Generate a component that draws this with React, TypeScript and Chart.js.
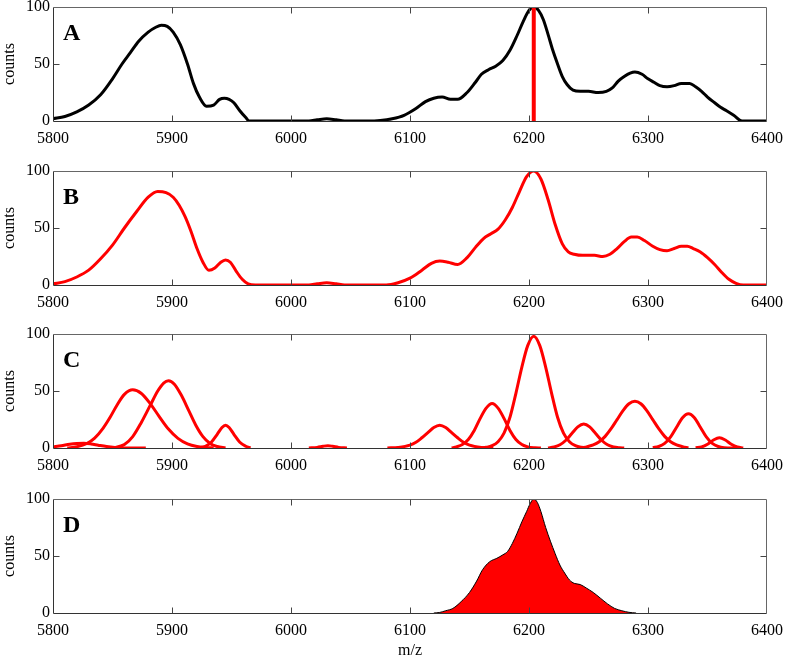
import React, { useEffect, useRef } from "react";
import { Chart, registerables } from "chart.js";

Chart.register(...registerables);

// ---------- axes / labels ----------
const xRange = [5800, 6400];
const xTickValues = [5800, 5900, 6000, 6100, 6200, 6300, 6400];
const yRange = [0, 100];
const yTickValues = [0, 50, 100];
const panelLetters = ["A", "B", "C", "D"];
const xAxisTitle = "m/z";
const yAxisTitle = "counts";

// ---------- panel A: raw spectrum (black) + marker (red) ----------
const spectrumA: number[][] = [
  [5800, 2], [5810, 4], [5820, 8], [5830, 14], [5840, 23], [5850, 37], [5858, 50],
  [5865, 60], [5872, 70], [5880, 78], [5886, 82], [5891, 84], [5896, 83], [5901, 78],
  [5907, 67], [5913, 50], [5918, 33], [5923, 21], [5929, 13], [5935, 14], [5940, 19],
  [5944, 20], [5948, 19], [5952, 16], [5957, 9], [5962, 3], [5965, 0], [6015, 0],
  [6022, 1], [6030, 2], [6038, 1], [6045, 0], [6065, 0], [6075, 0.5], [6085, 2],
  [6095, 5], [6105, 11], [6113, 17], [6120, 20], [6127, 21], [6134, 19], [6140, 19],
  [6148, 25], [6155, 34], [6160, 41], [6166, 45], [6172, 48], [6178, 53], [6184, 62],
  [6190, 75], [6195, 87], [6200, 97], [6204, 100], [6208, 97], [6212, 89], [6216, 76],
  [6220, 62], [6224, 50], [6228, 39], [6232, 32], [6237, 27], [6243, 26], [6250, 26],
  [6258, 25], [6265, 26], [6270, 29], [6275, 35], [6280, 39], [6285, 42], [6289, 43],
  [6295, 41], [6300, 37], [6305, 34], [6310, 31], [6316, 30], [6322, 31], [6328, 33],
  [6335, 33], [6340, 30], [6345, 26], [6350, 21], [6356, 16], [6361, 12], [6366, 9],
  [6372, 5], [6379, 0], [6400, 0],
];
const markerA: number[][] = [[6204, 0], [6204, 100]];

// ---------- panel B: smoothed spectrum ----------
const smoothB: number[][] = [
  [5800, 1], [5810, 3], [5820, 7], [5830, 13], [5840, 23], [5850, 35], [5860, 50],
  [5870, 64], [5880, 77], [5888, 82], [5895, 81], [5901, 77], [5906, 70], [5911, 60],
  [5916, 47], [5921, 32], [5926, 20], [5931, 13], [5936, 15], [5941, 20], [5945, 22],
  [5949, 20], [5954, 12], [5959, 5], [5964, 1], [5970, 0], [6015, 0], [6022, 1],
  [6030, 2], [6038, 1], [6045, 0], [6080, 0], [6090, 2], [6100, 6], [6110, 13],
  [6118, 19], [6125, 21], [6132, 20], [6140, 18], [6148, 24], [6155, 33], [6162, 41],
  [6168, 45], [6174, 49], [6180, 57], [6186, 68], [6192, 82], [6198, 95], [6204, 100],
  [6210, 93], [6216, 75], [6222, 53], [6228, 36], [6233, 29], [6238, 27], [6245, 26],
  [6255, 26], [6262, 25], [6268, 27], [6274, 32], [6280, 38], [6286, 42], [6291, 42],
  [6297, 39], [6304, 34], [6310, 31], [6316, 30], [6322, 32], [6328, 34], [6333, 34],
  [6338, 32], [6344, 29], [6350, 24], [6356, 18], [6362, 11], [6368, 5], [6374, 1.5],
  [6380, 0], [6400, 0],
];

// ---------- panel C: fitted peak components ----------
const peakC1: number[][] = [
  [5800, 1], [5807, 2], [5814, 3.3], [5820, 4], [5826, 4.2], [5832, 3.6], [5838, 2.5],
  [5845, 1.3], [5852, 0.5], [5860, 0.1], [5878, 0],
];
const peakC2: number[][] = [
  [5812, 0], [5820, 1.1], [5828, 3.7], [5835, 8.7], [5842, 17.3], [5848, 27], [5854, 38],
  [5860, 47], [5867, 51], [5874, 48], [5882, 38.5], [5889, 28], [5897, 16.6],
  [5905, 8.4], [5913, 3.6], [5921, 1.3], [5929, 0.4], [5935, 0],
];
const peakC3: number[][] = [
  [5845, 0], [5852, 0.5], [5860, 3], [5867, 10], [5874, 22], [5882, 38], [5888, 50],
  [5893, 57], [5897, 59], [5902, 56], [5908, 46], [5914, 33], [5920, 20], [5926, 10],
  [5932, 4], [5938, 1.3], [5945, 0],
];
const peakC4: number[][] = [
  [5922, 0], [5928, 1.5], [5933, 5], [5938, 12], [5942, 18], [5945, 20], [5948, 18],
  [5952, 12], [5957, 5], [5962, 1.5], [5966, 0],
];
const peakC5: number[][] = [
  [6015, 0], [6022, 0.5], [6027, 1.5], [6031, 2], [6035, 1.5], [6040, 0.5], [6047, 0],
];
const peakC6: number[][] = [
  [6081, 0], [6090, 0.5], [6100, 2.5], [6105, 5], [6110, 9], [6115, 13.5], [6120, 18],
  [6125, 20], [6130, 18], [6135, 13.5], [6140, 9], [6145, 5], [6150, 2.5], [6160, 0.5],
  [6170, 0],
];
const peakC7: number[][] = [
  [6135, 0], [6139, 1], [6144, 3], [6149, 7.5], [6154, 15.4], [6159, 26], [6164, 35],
  [6169, 39], [6174, 35], [6179, 26], [6184, 15.4], [6189, 7.5], [6194, 3], [6199, 1],
  [6205, 0.2], [6210, 0],
];
const peakC8: number[][] = [
  [6160, 0], [6164, 0.6], [6169, 2], [6174, 5.5], [6179, 13], [6184, 27], [6189, 48],
  [6194, 71], [6199, 90], [6204, 98], [6209, 90], [6214, 71], [6219, 48], [6224, 27],
  [6229, 13], [6234, 5.5], [6239, 2], [6244, 0.6], [6250, 0],
];
const peakC9: number[][] = [
  [6216, 0], [6221, 0.9], [6226, 2.8], [6231, 6.8], [6236, 12.7], [6241, 18.5],
  [6246, 21], [6251, 18.5], [6256, 12.7], [6261, 6.8], [6266, 2.8], [6271, 0.9],
  [6276, 0.2], [6280, 0],
];
const peakC10: number[][] = [
  [6244, 0], [6249, 1.2], [6254, 2.7], [6259, 5.5], [6264, 10.2], [6269, 16.9],
  [6274, 24.9], [6279, 32.8], [6284, 38.8], [6289, 41], [6294, 38.8], [6299, 32.8],
  [6304, 24.9], [6309, 16.9], [6314, 10.2], [6319, 5.5], [6324, 2.7], [6329, 1.2],
  [6334, 0],
];
const peakC11: number[][] = [
  [6304, 0.3], [6309, 1.3], [6314, 4], [6319, 9.7], [6324, 18.2], [6329, 26.5],
  [6334, 30], [6339, 26.5], [6344, 18.2], [6349, 9.7], [6354, 4], [6359, 1.3],
  [6364, 0.3], [6374, 0],
];
const peakC12: number[][] = [
  [6340, 0.15], [6345, 0.9], [6350, 3.3], [6355, 7], [6360, 9], [6365, 7], [6370, 3.3],
  [6375, 0.9], [6380, 0],
];
const peaksC = [peakC1, peakC2, peakC3, peakC4, peakC5, peakC6, peakC7, peakC8, peakC9, peakC10, peakC11, peakC12];

// ---------- panel D: selected envelope (filled) ----------
const envelopeD: number[][] = [
  [6120, 0], [6125, 0.5], [6130, 2], [6136, 4], [6143, 10], [6150, 18], [6156, 28],
  [6161, 38], [6167, 45], [6173, 48], [6178, 51], [6182, 54], [6186, 61], [6190, 70],
  [6194, 80], [6198, 89], [6201, 96], [6204, 100], [6207, 97], [6210, 89], [6214, 75],
  [6218, 63], [6222, 52], [6226, 42], [6230, 35], [6234, 29], [6238, 26], [6243, 25],
  [6248, 22], [6254, 18], [6260, 13], [6266, 8], [6272, 4], [6278, 2], [6284, 0.6],
  [6290, 0],
];

// ---------- styling / layout ----------
const RED = "rgb(255,0,0)";
const FONT = "'Liberation Serif', 'Times New Roman', serif";
const W = 786;
const PAD_TOP = 7;
const AREA_H = 114;
const AXIS_W = 53;
const PAD_RIGHT = 19;

const toPts = (arr: number[][]) => arr.map(([x, y]) => ({ x, y }));

const framePlugin = {
  id: "frame",
  afterDatasetsDraw(chart: any, _args: any, opts: any) {
    const { ctx, chartArea, scales } = chart;
    const { left, top, right, bottom } = chartArea;
    const L = Math.round(left) + 0.5;
    const R = Math.round(right) - 0.5;
    const T = Math.round(top) + 0.5;
    const B = Math.round(bottom) + 0.5;
    ctx.save();
    ctx.lineWidth = 1;
    ctx.strokeStyle = "#666";
    ctx.beginPath();
    ctx.moveTo(L, T); ctx.lineTo(R, T); ctx.lineTo(R, B);
    ctx.stroke();
    ctx.strokeStyle = "#333";
    ctx.beginPath();
    ctx.moveTo(L, T); ctx.lineTo(L, B); ctx.lineTo(R, B);
    ctx.stroke();
    ctx.strokeStyle = "#444";
    ctx.beginPath();
    xTickValues.slice(1, -1).forEach((v) => {
      const px = Math.round(scales.x.getPixelForValue(v)) + 0.5;
      ctx.moveTo(px, B); ctx.lineTo(px, B - 6);
      ctx.moveTo(px, T); ctx.lineTo(px, T + 6);
    });
    yTickValues.slice(1, -1).forEach((v) => {
      const py = Math.round(scales.y.getPixelForValue(v)) + 0.5;
      ctx.moveTo(L, py); ctx.lineTo(L + 6, py);
      ctx.moveTo(R, py); ctx.lineTo(R - 6, py);
    });
    ctx.stroke();
    ctx.fillStyle = "#000";
    ctx.font = `bold 24px ${FONT}`;
    ctx.textBaseline = "alphabetic";
    ctx.textAlign = "left";
    ctx.fillText(opts.letter, left + 10, top + 33);
    ctx.restore();
  },
};

function buildDatasets(kind: string): any[] {
  const line = { pointRadius: 0, cubicInterpolationMode: "monotone", fill: false };
  if (kind === "A")
    return [
      { ...line, data: toPts(markerA), borderColor: RED, borderWidth: 4 },
      { ...line, data: toPts(spectrumA), borderColor: "#000", borderWidth: 3 },
    ];
  if (kind === "B") return [{ ...line, data: toPts(smoothB), borderColor: RED, borderWidth: 3 }];
  if (kind === "C")
    return peaksC.map((p) => ({ ...line, data: toPts(p), borderColor: RED, borderWidth: 3 }));
  return [
    {
      ...line,
      data: toPts(envelopeD),
      borderColor: "#000",
      borderWidth: 1,
      backgroundColor: RED,
      fill: "origin",
    },
  ];
}

function Panel({ kind, top, height, showX }: { kind: string; top: number; height: number; showX: boolean }) {
  const ref = useRef<HTMLCanvasElement>(null);
  useEffect(() => {
    const xAxisH = height - PAD_TOP - AREA_H;
    const chart = new Chart(ref.current as HTMLCanvasElement, {
      type: "line",
      data: { datasets: buildDatasets(kind) },
      options: {
        animation: false,
        responsive: false,
        events: [],
        layout: { padding: { top: PAD_TOP, right: PAD_RIGHT, left: 0, bottom: 0 } },
        plugins: {
          legend: { display: false },
          tooltip: { enabled: false },
          frame: { letter: kind },
        } as any,
        scales: {
          x: {
            type: "linear",
            min: xRange[0],
            max: xRange[1],
            grid: { display: false, drawTicks: false },
            border: { display: false },
            ticks: {
              stepSize: 100,
              padding: 8,
              maxRotation: 0,
              autoSkip: false,
              color: "#000",
              font: { family: FONT, size: 16 },
              callback: (v: any) => String(v),
            },
            title: {
              display: showX,
              text: xAxisTitle,
              color: "#000",
              font: { family: FONT, size: 16 },
              padding: { top: 0, bottom: 2 },
            },
            afterFit: (s: any) => {
              s.height = xAxisH;
              s.paddingLeft = 0;
              s.paddingRight = 0;
            },
          },
          y: {
            type: "linear",
            min: yRange[0],
            max: yRange[1],
            grid: { display: false, drawTicks: false },
            border: { display: false },
            ticks: {
              stepSize: 50,
              padding: 3,
              color: "#000",
              font: { family: FONT, size: 16 },
              callback: (v: any) => String(v),
            },
            title: {
              display: true,
              text: yAxisTitle,
              color: "#000",
              font: { family: FONT, size: 16 },
              padding: 0,
            },
            afterFit: (s: any) => {
              s.width = AXIS_W;
              s.paddingTop = 0;
              s.paddingBottom = 0;
            },
          },
        },
      } as any,
      plugins: [framePlugin as any],
    });
    return () => chart.destroy();
  }, [kind, height]);
  return (
    <canvas
      ref={ref}
      width={W}
      height={height}
      style={{ position: "absolute", left: 0, top, width: W, height, display: "block" }}
    />
  );
}

const panelTops = [0, 164, 327, 492];

export default function App() {
  return (
    <div
      style={{
        position: "absolute",
        left: 0,
        top: 0,
        width: W,
        height: 656,
        overflow: "hidden",
        background: "#fff",
      }}
    >
      {panelLetters.map((k, i) => (
        <Panel key={k} kind={k} top={panelTops[i]} height={i === 3 ? 170 : 164} showX={i === 3} />
      ))}
    </div>
  );
}
